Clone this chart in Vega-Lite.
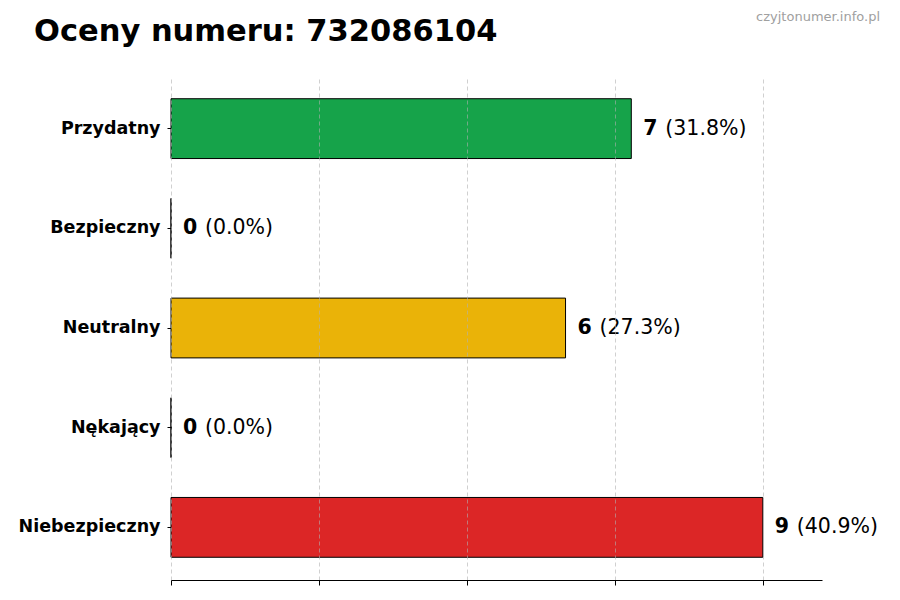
{
  "$schema": "https://vega.github.io/schema/vega-lite/v6.json",
  "width": 651,
  "height": 504,
  "autosize": "none",
  "padding": {"left": 171, "top": 76, "right": 78, "bottom": 20},
  "background": "white",
  "config": {
    "view": {"stroke": null},
    "font": "DejaVu Sans"
  },
  "title": {
    "text": "Oceny numeru: 732086104",
    "anchor": "start",
    "frame": "group",
    "dx": -137,
    "dy": 60,
    "offset": 0,
    "fontSize": 30.5,
    "fontWeight": "bold",
    "font": "DejaVu Sans",
    "color": "#000000",
    "baseline": "alphabetic"
  },
  "data": {
    "values": [
      {"ocena": "Przydatny", "liczba": 7, "procent": "(31.8%)", "kolor": "#16a34a"},
      {"ocena": "Bezpieczny", "liczba": 0, "procent": "(0.0%)", "kolor": "#3b82f6"},
      {"ocena": "Neutralny", "liczba": 6, "procent": "(27.3%)", "kolor": "#eab308"},
      {"ocena": "Nękający", "liczba": 0, "procent": "(0.0%)", "kolor": "#f97316"},
      {"ocena": "Niebezpieczny", "liczba": 9, "procent": "(40.9%)", "kolor": "#dc2626"}
    ]
  },
  "layer": [
    {
      "mark": {"type": "bar", "stroke": "#000000", "strokeWidth": 1},
      "encoding": {
        "y": {
          "field": "ocena",
          "type": "nominal",
          "sort": null,
          "title": null,
          "scale": {"paddingInner": 0.4, "paddingOuter": 0.228},
          "axis": {
            "domain": false,
            "ticks": true,
            "tickSize": 4,
            "tickColor": "#000000",
            "labelFontSize": 17.5,
            "labelFontWeight": "bold",
            "labelColor": "#000000",
            "labelPadding": 7,
            "labelFont": "DejaVu Sans"
          }
        },
        "x": {
          "field": "liczba",
          "type": "quantitative",
          "title": null,
          "scale": {"domain": [0, 9.9], "nice": false, "zero": true},
          "axis": {
            "values": [0, 2.25, 4.5, 6.75, 9],
            "labels": false,
            "domain": true,
            "domainColor": "#000000",
            "domainWidth": 1,
            "tickColor": "#000000",
            "tickSize": 5,
            "grid": true,
            "gridColor": "#b0b0b0",
            "gridOpacity": 0.6,
            "gridDash": [4, 3],
            "zindex": 1
          }
        },
        "color": {"field": "kolor", "type": "nominal", "scale": null}
      }
    },
    {
      "mark": {
        "type": "text",
        "align": "left",
        "baseline": "middle",
        "dx": 12,
        "fontSize": 20.5,
        "fontWeight": "bold",
        "color": "#000000"
      },
      "encoding": {
        "y": {"field": "ocena", "type": "nominal", "sort": null},
        "x": {"field": "liczba", "type": "quantitative"},
        "text": {"field": "liczba", "type": "quantitative"}
      }
    },
    {
      "mark": {
        "type": "text",
        "align": "left",
        "baseline": "middle",
        "dx": 34,
        "fontSize": 20.5,
        "color": "#000000"
      },
      "encoding": {
        "y": {"field": "ocena", "type": "nominal", "sort": null},
        "x": {"field": "liczba", "type": "quantitative"},
        "text": {"field": "procent", "type": "nominal"}
      }
    },
    {
      "data": {"values": [{"napis": "czyjtonumer.info.pl"}]},
      "mark": {
        "type": "text",
        "align": "right",
        "baseline": "middle",
        "x": 709,
        "y": -59,
        "fontSize": 13,
        "color": "#a0a0a0"
      },
      "encoding": {
        "text": {"field": "napis", "type": "nominal"}
      }
    }
  ]
}
